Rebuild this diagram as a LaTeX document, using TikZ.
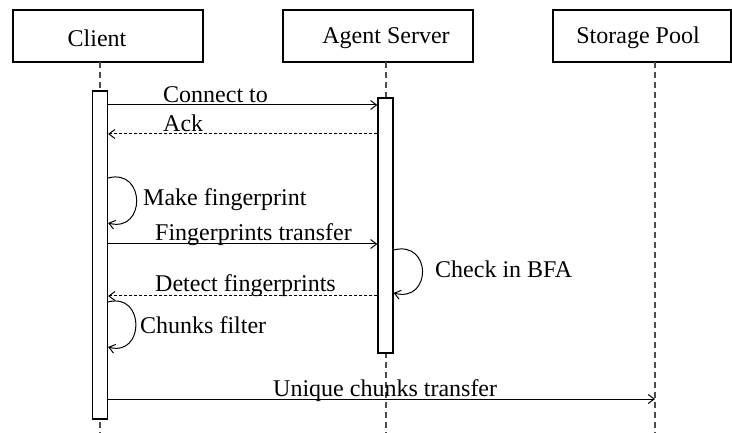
\documentclass[tikz,border=0pt]{standalone}
\usepackage{fontspec}
\setmainfont{Liberation Serif}
\usetikzlibrary{arrows.meta}
\begin{document}
\begin{tikzpicture}[x=1pt,y=-1pt,
  actor/.style={draw,line width=1.2pt,minimum height=52pt,inner sep=0pt},
  bar/.style={draw,fill=white,line width=1.2pt,minimum width=15pt,inner sep=0pt},
  life/.style={dash pattern=on 6pt off 4pt,line width=1.3pt,draw=black!70},
  msg/.style={line width=1pt,-{Straight Barb[length=6pt,width=9pt]}},
  reply/.style={msg,dash pattern=on 3pt off 2pt},
  lbl/.style={anchor=base west,inner sep=0pt},
  font=\fontsize{24}{28}\selectfont]
\useasboundingbox (0,0) rectangle (732,433);
% actors
\node[actor,minimum width=190pt] (client) at (108,36) {};
\node at (97,38) {Client};
\node[actor,minimum width=190pt] (agent) at (378,36) {};
\node at (386,38) {Agent Server};
\node[actor,minimum width=178pt] (storage) at (642,36) {};
\node at (638,38) {Storage Pool};
% lifelines
\draw[life] (100,62) -- (100,433);
\draw[life] (386,62) -- (386,433);
\draw[life] (655,62) -- (655,433);
% activation bars
\node[bar,minimum height=328pt] (cbar) at (100,255) {};
\node[bar,minimum height=255pt] (abar) at (385.5,225.5) {};
% coordinates
\coordinate (c1) at (cbar.east |- 0,105);
\coordinate (a1) at (abar.west |- 0,105);
\coordinate (a2) at (abar.west |- 0,134);
\coordinate (c2) at (cbar.east |- 0,134);
\coordinate (c3a) at (cbar.east |- 0,178);
\coordinate (c3b) at (cbar.east |- 0,223);
\coordinate (c4) at (cbar.east |- 0,244);
\coordinate (a4) at (abar.west |- 0,244);
\coordinate (a5a) at (abar.east |- 0,250);
\coordinate (a5b) at (abar.east |- 0,293);
\coordinate (a6) at (abar.west |- 0,296);
\coordinate (c6) at (cbar.east |- 0,296);
\coordinate (c7a) at (cbar.east |- 0,302);
\coordinate (c7b) at (cbar.east |- 0,347);
\coordinate (c8) at (cbar.east |- 0,399);
\coordinate (s8) at (655,399);
% messages
\draw[msg] (c1) -- (a1);
\node[lbl] (l1) at (163,103) {Connect to};
\draw[reply] (a2) -- (c2);
\node[lbl] (l2) at (163,132) {Ack};
\draw[msg] (c3a) .. controls (146,168) and (146,233) .. (c3b);
\node[lbl] (l3) at (143,206) {Make fingerprint};
\draw[msg] (c4) -- (a4);
\node[lbl] (l4) at (155,241) {Fingerprints transfer};
\draw[msg] (a5a) .. controls (432,240) and (432,303) .. (a5b);
\node[lbl] (l5) at (435,278) {Check in BFA};
\draw[reply] (a6) -- (c6);
\node[lbl] (l6) at (155,291) {Detect fingerprints};
\draw[msg] (c7a) .. controls (145,292) and (145,357) .. (c7b);
\node[lbl] (l7) at (140,334) {Chunks filter};
\draw[msg] (c8) -- (s8);
\node[lbl] (l8) at (273,396) {Unique chunks transfer};
\end{tikzpicture}
\end{document}
